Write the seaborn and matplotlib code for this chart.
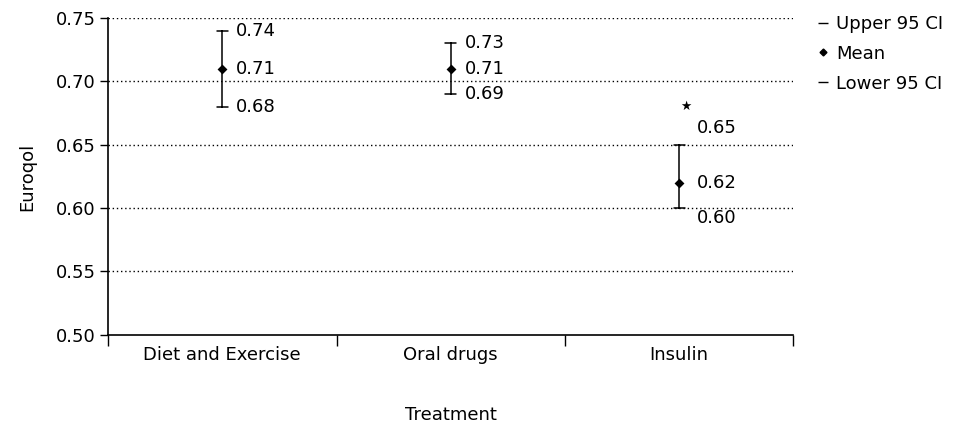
import numpy as np
import pandas as pd
import matplotlib.pyplot as plt
import seaborn as sns
from matplotlib.lines import Line2D

# values
treatments = ['Diet and Exercise', 'Oral drugs', 'Insulin']
lower_ci = [0.68, 0.69, 0.60]
means = [0.71, 0.71, 0.62]
upper_ci = [0.74, 0.73, 0.65]
star_y = 0.68  # significance marker over Insulin

# long table: one row per value, estimator = median picks the mean,
# errorbar = (min, max) gives the CI ends
df = pd.DataFrame({
    'Treatment': np.repeat(treatments, 3),
    'Euroqol': np.ravel(np.column_stack([lower_ci, means, upper_ci])),
})

sns.set_style('white')
plt.rcParams['font.family'] = ['DejaVu Sans']
plt.rcParams['font.size'] = 13
plt.rcParams['text.color'] = 'black'
plt.rcParams['axes.labelcolor'] = 'black'
plt.rcParams['xtick.color'] = 'black'
plt.rcParams['ytick.color'] = 'black'

fig = plt.figure(figsize=(9.56, 4.25), dpi=100)
ax = fig.add_axes([0.113, 0.212, 0.717, 0.746])

sns.pointplot(data=df, x='Treatment', y='Euroqol', order=treatments,
              estimator=np.median, errorbar=lambda v: (v.min(), v.max()),
              capsize=0.05, linestyle='none', marker='D', markersize=3,
              color='black', err_kws={'linewidth': 1.1}, ax=ax)

ax.set_xlim(-0.5, 2.5)
ax.set_ylim(0.50, 0.75)
yt = np.arange(0.50, 0.751, 0.05)
ax.set_yticks(yt)
ax.set_yticklabels([f'{t:.2f}' for t in yt], fontsize=13)

# dotted grid lines (not on the axis line itself)
for t in yt[1:]:
    ax.axhline(t, color='black', linestyle=(0, (1, 2)), linewidth=1, zorder=0)

# ticks at category boundaries, labels centred
ax.set_xticks([-0.5, 0.5, 1.5, 2.5])
ax.set_xticklabels([])
ax.set_xticks([0, 1, 2], minor=True)
ax.set_xticklabels(treatments, minor=True, fontsize=13)
ax.tick_params(axis='x', which='major', bottom=True, direction='out', length=8, width=1)
ax.tick_params(axis='x', which='minor', bottom=True, length=0, pad=8)
ax.tick_params(axis='y', left=True, direction='out', length=6, width=1, pad=3)

for side in ['top', 'right']:
    ax.spines[side].set_visible(False)
for side in ['left', 'bottom']:
    ax.spines[side].set_color('black')
    ax.spines[side].set_linewidth(1.2)

ax.set_xlabel('Treatment', fontsize=13, labelpad=30)
ax.set_ylabel('Euroqol', fontsize=13, labelpad=14)

# value labels next to each interval
for i, (lo, m, hi) in enumerate(zip(lower_ci, means, upper_ci)):
    dx = 10 if i < 2 else 13
    up_dy, lo_dy = (12, -7) if i == 2 else (0, 0)
    ax.annotate(f'{hi:.2f}', (i, hi), xytext=(dx, up_dy), textcoords='offset points',
                va='center', ha='left', fontsize=13)
    ax.annotate(f'{m:.2f}', (i, m), xytext=(dx, 0), textcoords='offset points',
                va='center', ha='left', fontsize=13)
    ax.annotate(f'{lo:.2f}', (i, lo), xytext=(dx, lo_dy), textcoords='offset points',
                va='center', ha='left', fontsize=13)

ax.annotate('\u2605', (2, star_y), xytext=(5, 0), textcoords='offset points',
            va='center', ha='center', fontsize=9)

handles = [
    Line2D([], [], marker='_', linestyle='none', color='black', markersize=7),
    Line2D([], [], marker='D', linestyle='none', color='black', markersize=3.5),
    Line2D([], [], marker='_', linestyle='none', color='black', markersize=7),
]
ax.legend(handles, ['Upper 95 CI', 'Mean', 'Lower 95 CI'], loc='upper left',
          bbox_to_anchor=(1.012, 1.06), frameon=False, handlelength=0.6,
          handletextpad=0.4, labelspacing=0.65, fontsize=13)

fig.savefig('out.png', dpi=100)
